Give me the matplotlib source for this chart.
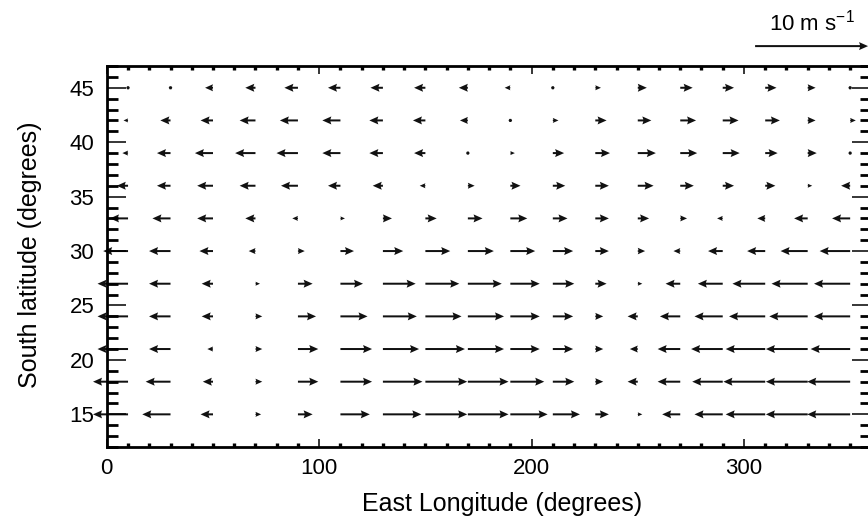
import numpy as np
import matplotlib
matplotlib.use("Agg")
import matplotlib.pyplot as plt
from matplotlib.ticker import MultipleLocator

plt.rcParams['font.family'] = ['Liberation Sans', 'DejaVu Sans']
plt.rcParams['mathtext.fontset'] = 'custom'
plt.rcParams['mathtext.rm'] = 'Liberation Sans'
plt.rcParams['mathtext.it'] = 'Liberation Sans:italic'

# grid of the wind field
lons = np.arange(10, 360, 20)          # 10, 30, ..., 350
lats = [45, 42, 39, 36, 33, 30, 27, 24, 21, 18, 15]

# zonal wind (m/s), one row per latitude, west -> east
u_wind = [
    [0.3, -0.3, -0.7, -0.9, -1.2, -1.1, -1.1, -1.0, -0.8, -0.5, 0.3, 0.5, 0.8, 1.1, 1.0, 1.0, 0.7, -0.3],   # 45
    [-0.4, -0.9, -1.1, -1.4, -1.6, -1.6, -1.2, -1.1, -0.7, -0.3, 0.5, 1.0, 1.2, 1.4, 1.4, 1.3, 0.7, 0.5],  # 42
    [-0.5, -1.2, -1.6, -1.8, -1.9, -1.6, -1.2, -1.0, -0.3, 0.4, 1.0, 1.3, 1.6, 1.5, 1.5, 1.1, 0.8, 0.3],   # 39
    [-1.0, -1.2, -1.4, -1.4, -1.5, -1.1, -0.9, -0.5, 0.6, 0.9, 1.1, 1.2, 1.4, 1.2, 1.0, 0.9, 0.4, -0.8],   # 36
    [-1.6, -1.6, -1.4, -0.9, -0.5, 0.4, 0.8, 1.0, 1.3, 1.5, 1.3, 1.2, 1.0, 0.6, -0.5, -0.7, -1.2, -1.6],   # 33
    [-2.2, -1.9, -1.2, -0.6, 0.6, 1.2, 1.8, 2.2, 2.3, 2.2, 1.8, 1.2, 0.65, -0.6, -1.3, -1.6, -2.4, -2.7],  # 30
    [-2.7, -1.9, -1.0, 0.4, 1.3, 2.0, 2.9, 3.0, 3.0, 2.6, 1.9, 1.0, 0.4, -1.3, -2.2, -2.9, -3.2, -3.2],    # 27
    [-2.7, -1.9, -1.0, 0.6, 1.6, 2.4, 3.0, 3.2, 3.2, 2.6, 1.8, 0.7, -0.9, -1.8, -2.5, -3.2, -3.4, -3.2],   # 24
    [-2.7, -1.9, -0.5, 0.6, 1.8, 2.8, 3.2, 3.5, 3.2, 2.6, 1.8, 0.7, -0.7, -2.0, -2.8, -3.5, -3.7, -3.5],   # 21
    [-3.1, -2.2, -0.9, 0.6, 1.8, 2.8, 3.5, 3.7, 3.6, 3.0, 1.9, 0.7, -0.9, -2.0, -2.7, -3.7, -3.7, -3.8],   # 18
    [-3.1, -2.5, -1.1, 0.5, 1.3, 2.6, 3.4, 3.7, 3.6, 3.3, 2.4, 1.2, 0.4, -1.6, -2.5, -3.5, -3.7, -3.8],    # 15
]

key_speed = 10
key_label = r'10 m s$^{-1}$'

LON, LAT = np.meshgrid(lons, lats)
U = np.array(u_wind)
V = np.zeros_like(U)

fig = plt.figure(figsize=(8.68, 5.18), dpi=100)
ax = fig.add_axes([106.8 / 868, 1 - 447 / 518, 764.6 / 868, 381 / 518])

# arrows start at the grid point; the westmost ones may run past the frame
Q = ax.quiver(LON, LAT, U, V, pivot='tail', angles='xy', scale_units='xy',
              scale=0.188, units='dots', width=2.0, headwidth=4.0,
              headlength=4.5, headaxislength=4.0, minlength=1.8,
              color='#111111', clip_on=False)

ax.quiverkey(Q, 0.935, 0.911, key_speed, key_label, labelpos='N',
             coordinates='figure', labelsep=0.11,
             fontproperties={'size': 16})

ax.set_xlim(0, 360)
ax.set_ylim(12, 47)

ax.xaxis.set_major_locator(MultipleLocator(100))
ax.xaxis.set_minor_locator(MultipleLocator(10))
ax.yaxis.set_major_locator(MultipleLocator(5))
ax.yaxis.set_minor_locator(MultipleLocator(1))

for s in ax.spines.values():
    s.set_linewidth(2.0)

ax.tick_params(which='both', direction='in', top=True, right=True,
               labelsize=16)
ax.tick_params(axis='y', which='major', length=14, width=1.1, pad=9)
ax.tick_params(axis='y', which='minor', length=8, width=2.0)
ax.tick_params(axis='x', which='major', length=6, width=1.1, pad=8)
ax.tick_params(axis='x', which='minor', length=3, width=2.4)

ax.set_xlabel('East Longitude (degrees)', fontsize=18)
ax.set_ylabel('South latitude (degrees)', fontsize=18)
ax.xaxis.set_label_coords(0.5175, -0.118)
ax.yaxis.set_label_coords(-0.085, 0.505)

fig.savefig('out.png', dpi=100)
